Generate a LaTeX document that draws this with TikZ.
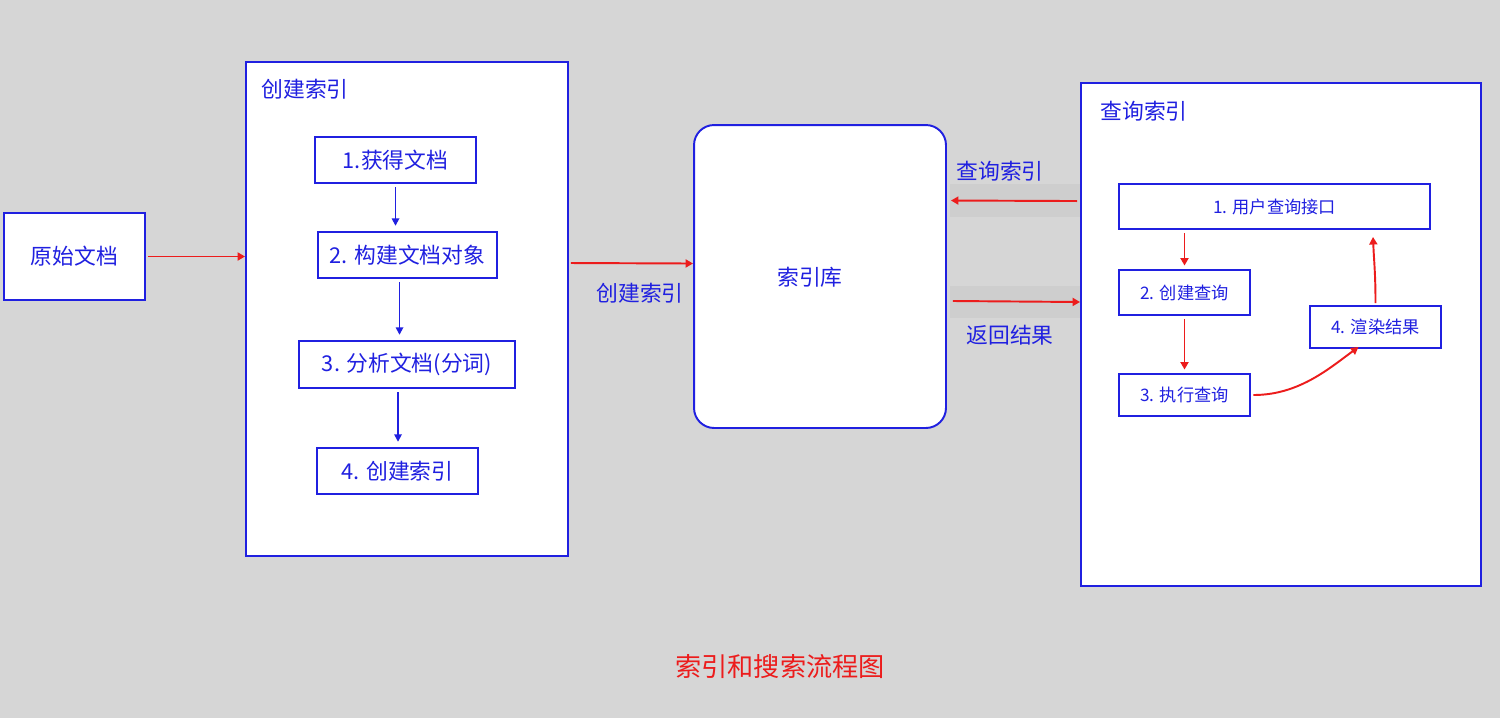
\documentclass[tikz,border=0pt]{standalone}
\usepackage{fontspec}
\setmainfont{Noto Sans CJK SC}
\usetikzlibrary{arrows.meta}
\definecolor{bgray}{HTML}{D6D6D6}
\definecolor{band}{HTML}{CECECE}
\definecolor{lblue}{HTML}{2020E0}
\definecolor{lred}{HTML}{EC1C1C}
\tikzset{
  box/.style={draw=lblue,line width=1.1pt,fill=white,text=lblue,inner sep=0pt},
  big/.style={font=\fontsize{12.4pt}{14pt}\selectfont},
  small/.style={font=\fontsize{9.8pt}{12pt}\selectfont},
  redarr/.style={draw=lred,line width=1.1pt,-{Triangle[length=0.15cm,width=0.16cm]}},
  bluearr/.style={draw=lblue,line width=0.95pt,-{Triangle[length=0.15cm,width=0.15cm]}}
}
\begin{document}
\begin{tikzpicture}[x=0.02cm,y=-0.02cm]
  \fill[bgray] (0,0) rectangle (1500,718);
  \fill[band] (950,184) rectangle (1080,217); \fill[band] (950,286) rectangle (1080,318);

  \node[box,big,minimum width=2.82cm,minimum height=1.74cm] (orig) at (74.5,256.5) {原始文档};
  \node[box,minimum width=6.44cm,minimum height=9.88cm] (mk) at (407,309) {};
  \node[text=lblue,big] (mklabel) at (305,89) {创建索引};
  \node[box,big,minimum width=3.22cm,minimum height=0.92cm] (s1) at (395.5,160) {1.获得文档};
  \node[box,big,minimum width=3.58cm,minimum height=0.92cm] (s2) at (407.5,255) {2. 构建文档对象};
  \node[box,big,minimum width=4.32cm,minimum height=0.94cm] (s3) at (407,364.5) {3. 分析文档(分词)};
  \node[box,big,minimum width=3.22cm,minimum height=0.92cm] (s4) at (397.5,471) {4. 创建索引};
  \draw[bluearr,shorten <=2pt,shorten >=3pt] (s1.south) -- (s1.south |- s2.north);
  \draw[bluearr,shorten <=2pt,shorten >=3pt] ([xshift=-0.16cm]s2.south) -- ([xshift=-0.16cm]s2.south |- s3.north);
  \draw[bluearr,shorten <=2pt,shorten >=3pt] ([xshift=-0.18cm]s3.south) -- ([xshift=-0.18cm]s3.south |- s4.north);
  \draw[redarr] ([xshift=0.04cm]orig.east) -- (mk.west |- orig.east);

  \node[box,rounded corners=0.4cm,minimum width=5.04cm,minimum height=6.06cm] (lib) at (820,276.5) {};
  \node[text=lblue,big] (libtext) at (810,277) {索引库};
  \draw[redarr] ([xshift=0.04cm,yshift=0.92cm]mk.east) -- ([yshift=0.26cm]lib.west);
  \node[text=lblue,big] (mkarr) at (640,293) {创建索引};

  \node[box,minimum width=8.0cm,minimum height=10.06cm] (qry) at (1281,334.5) {};
  \node[text=lblue,big] (qrylabel) at (1144,111) {查询索引};
  \draw[redarr] ([xshift=-0.06cm,yshift=2.67cm]qry.west) -- ([xshift=0.08cm,yshift=1.52cm]lib.east);
  \draw[redarr] ([xshift=0.12cm,yshift=-0.49cm]lib.east) -- ([yshift=0.65cm]qry.west);
  \node[text=lblue,big] (asklabel) at (1000,171) {查询索引};
  \node[text=lblue,big] (retlabel) at (1010,335) {返回结果};

  \node[box,small,minimum width=6.22cm,minimum height=0.9cm] (q1) at (1274.5,206.5) {1. 用户查询接口};
  \node[box,small,minimum width=2.62cm,minimum height=0.9cm] (q2) at (1184.5,292.5) {2. 创建查询};
  \node[box,small,minimum width=2.62cm,minimum height=0.84cm] (q3) at (1184.5,395) {3. 执行查询};
  \node[box,small,minimum width=2.62cm,minimum height=0.84cm] (q4) at (1375.5,327) {4. 渲染结果};
  \draw[redarr,shorten <=2pt,shorten >=2pt] (q2.north |- q1.south) -- (q2.north);
  \draw[redarr,shorten <=2pt,shorten >=2pt] (q2.south) -- (q3.north);
  \draw[redarr] ([xshift=0.05cm]q3.east) .. controls +(45,0) and +(-30,22) .. ([xshift=-0.34cm,yshift=0.04cm]q4.south);
  \draw[redarr] ([yshift=0.04cm]q4.north) .. controls +(0,-30) and +(1,25) .. ([xshift=-0.05cm,yshift=-0.14cm]q4.north |- q1.south);

  \node[text=lred,font=\fontsize{14.9pt}{17pt}\selectfont] (title) at (780,667) {索引和搜索流程图};
\end{tikzpicture}
\end{document}
